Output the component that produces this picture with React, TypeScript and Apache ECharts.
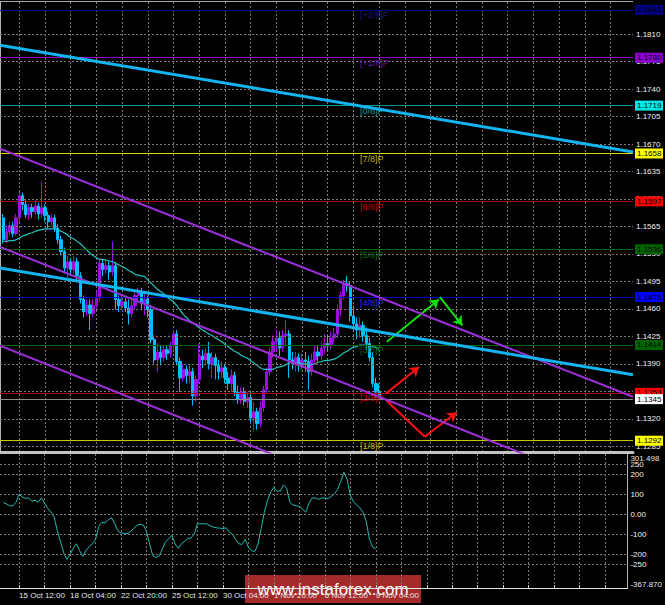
import React, { useEffect, useRef } from "react";
import * as echarts from "echarts";

// ---------------- data ----------------
const MONTHS = ["Jan", "Feb", "Mar", "Apr", "May", "Jun", "Jul", "Aug", "Sep", "Oct", "Nov", "Dec"];
const FIRST_SLOT_UTC = Date.UTC(2018, 9, 12, 12); // empty slot before the first H4 bar
const SLOT_COUNT = 198;

const OPEN = [
  1.1576, 1.1548, 1.1558, 1.1566, 1.1556, 1.1576, 1.1604, 1.1593, 1.158, 1.1589,
  1.1584, 1.1591, 1.1581, 1.1589, 1.1579, 1.1571, 1.1576, 1.1563, 1.1548, 1.1533,
  1.1512, 1.152, 1.151, 1.152, 1.1502, 1.1472, 1.1456, 1.1465, 1.1454, 1.1464,
  1.1474, 1.1518, 1.151, 1.1515, 1.1507, 1.1515, 1.1472, 1.1464, 1.1469, 1.1461,
  1.1454, 1.1464, 1.1477, 1.1482, 1.1467, 1.1472, 1.1459, 1.1421, 1.1395, 1.1405,
  1.1398, 1.1408, 1.1403, 1.1413, 1.1428, 1.1393, 1.1372, 1.1383, 1.1375, 1.138,
  1.1349, 1.137, 1.14, 1.1395, 1.1403, 1.139, 1.1398, 1.1388, 1.138, 1.1385,
  1.1372, 1.1365, 1.1375, 1.1354, 1.1344, 1.1354, 1.1342, 1.1347, 1.1321, 1.1329,
  1.1314, 1.1334, 1.1357, 1.138, 1.1405, 1.1418, 1.1423, 1.141, 1.1426, 1.1428,
  1.1395, 1.139, 1.1398, 1.1388, 1.1395, 1.1393, 1.138, 1.1395, 1.1405, 1.14,
  1.141, 1.1416, 1.1413, 1.1423, 1.1428, 1.1459, 1.1477, 1.1492, 1.149, 1.1451,
  1.1441, 1.1433, 1.1439, 1.1426, 1.1416, 1.1398, 1.1365, 1.1354,
];
const CLOSE = [
  1.1548, 1.1558, 1.1566, 1.1556, 1.1576, 1.1604, 1.1593, 1.158, 1.1589, 1.1584,
  1.1591, 1.1581, 1.1589, 1.1579, 1.1571, 1.1576, 1.1563, 1.1548, 1.1533, 1.1512,
  1.152, 1.151, 1.152, 1.1502, 1.1472, 1.1456, 1.1465, 1.1454, 1.1464, 1.1474,
  1.1518, 1.151, 1.1515, 1.1507, 1.1515, 1.1472, 1.1464, 1.1469, 1.1461, 1.1454,
  1.1464, 1.1477, 1.1482, 1.1467, 1.1472, 1.1459, 1.1421, 1.1395, 1.1405, 1.1398,
  1.1408, 1.1403, 1.1413, 1.1428, 1.1393, 1.1372, 1.1383, 1.1375, 1.138, 1.1349,
  1.137, 1.14, 1.1395, 1.1403, 1.139, 1.1398, 1.1388, 1.138, 1.1385, 1.1372,
  1.1365, 1.1375, 1.1354, 1.1344, 1.1354, 1.1342, 1.1347, 1.1321, 1.1329, 1.1314,
  1.1334, 1.1357, 1.138, 1.1405, 1.1418, 1.1423, 1.141, 1.1426, 1.1428, 1.1395,
  1.139, 1.1398, 1.1388, 1.1395, 1.1393, 1.138, 1.1395, 1.1405, 1.14, 1.141,
  1.1416, 1.1413, 1.1423, 1.1428, 1.1459, 1.1477, 1.1492, 1.149, 1.1451, 1.1441,
  1.1433, 1.1439, 1.1426, 1.1416, 1.1398, 1.1365, 1.1354, 1.1345,
];
const LOW = [
  1.1543, 1.1544, 1.1553, 1.1551, 1.1553, 1.1571, 1.1586, 1.1576, 1.1574, 1.1576,
  1.158, 1.1574, 1.1576, 1.1571, 1.1563, 1.1566, 1.1558, 1.1543, 1.1528, 1.1507,
  1.1495, 1.1502, 1.1505, 1.1497, 1.1467, 1.1449, 1.1451, 1.1433, 1.1449, 1.1459,
  1.1469, 1.1502, 1.1505, 1.1497, 1.1502, 1.1459, 1.1456, 1.1459, 1.1456, 1.144,
  1.1449, 1.1459, 1.1469, 1.1459, 1.1452, 1.1449, 1.1416, 1.139, 1.138, 1.1388,
  1.1393, 1.1395, 1.1398, 1.1408, 1.1388, 1.1354, 1.1367, 1.1365, 1.1365, 1.1337,
  1.1342, 1.1365, 1.1385, 1.1388, 1.1383, 1.1372, 1.137, 1.137, 1.1372, 1.1365,
  1.1357, 1.1354, 1.1349, 1.1339, 1.1339, 1.1337, 1.1334, 1.1316, 1.1304, 1.1306,
  1.1309, 1.1329, 1.1352, 1.1375, 1.1398, 1.1405, 1.14, 1.1405, 1.1413, 1.1372,
  1.1383, 1.138, 1.138, 1.1383, 1.138, 1.1357, 1.1375, 1.139, 1.1393, 1.1395,
  1.1403, 1.1405, 1.1408, 1.1416, 1.1423, 1.1451, 1.1472, 1.1482, 1.1444, 1.1431,
  1.1421, 1.1423, 1.1418, 1.1408, 1.1393, 1.136, 1.1347, 1.1344,
];
const HIGH = [
  1.1581, 1.1566, 1.1571, 1.1571, 1.1581, 1.1609, 1.1608, 1.1599, 1.1594, 1.1594,
  1.1599, 1.1595, 1.1622, 1.1593, 1.1584, 1.1581, 1.158, 1.1568, 1.1553, 1.1538,
  1.1528, 1.1525, 1.1528, 1.1525, 1.1507, 1.1477, 1.1472, 1.1472, 1.1472, 1.1482,
  1.1523, 1.1523, 1.1523, 1.152, 1.1546, 1.152, 1.1477, 1.1477, 1.1474, 1.1472,
  1.1472, 1.1484, 1.1487, 1.1487, 1.1479, 1.1477, 1.1465, 1.1426, 1.1416, 1.1413,
  1.1414, 1.1413, 1.1418, 1.1433, 1.1433, 1.1398, 1.139, 1.1388, 1.1388, 1.1385,
  1.1375, 1.1416, 1.1408, 1.141, 1.1418, 1.1405, 1.1403, 1.1395, 1.1393, 1.139,
  1.138, 1.1383, 1.138, 1.1362, 1.136, 1.136, 1.1354, 1.1354, 1.1342, 1.1334,
  1.1342, 1.1362, 1.1385, 1.141, 1.1426, 1.1433, 1.1431, 1.1433, 1.1446, 1.1433,
  1.1405, 1.1405, 1.1403, 1.1403, 1.1405, 1.14, 1.1403, 1.1413, 1.1413, 1.1418,
  1.1428, 1.1426, 1.1431, 1.1436, 1.1465, 1.1482, 1.1497, 1.1502, 1.1495, 1.1464,
  1.1449, 1.1449, 1.1444, 1.1436, 1.1423, 1.1405, 1.1372, 1.1365,
];
const MOVING_AVERAGE = [
  1.1546, 1.1546, 1.1547, 1.1547, 1.1548, 1.155, 1.1553, 1.1554, 1.1556, 1.1557,
  1.1559, 1.156, 1.1561, 1.1562, 1.1562, 1.1562, 1.1562, 1.156, 1.1559, 1.1557,
  1.1554, 1.1551, 1.1549, 1.1546, 1.1543, 1.1539, 1.1535, 1.1531, 1.1528, 1.1525,
  1.1523, 1.1523, 1.1522, 1.1521, 1.152, 1.1518, 1.1516, 1.1514, 1.1512, 1.1509,
  1.1507, 1.1504, 1.1503, 1.1502, 1.1501, 1.1497, 1.1493, 1.1489, 1.1485, 1.1482,
  1.1479, 1.1475, 1.1472, 1.1469, 1.1464, 1.1459, 1.1453, 1.1449, 1.1445, 1.1442,
  1.1439, 1.1436, 1.1433, 1.1431, 1.1428, 1.1426, 1.1423, 1.1421, 1.1418, 1.1415,
  1.1412, 1.1409, 1.1406, 1.1404, 1.1401, 1.1399, 1.1397, 1.1394, 1.1391, 1.1388,
  1.1385, 1.1383, 1.1383, 1.1383, 1.1383, 1.1385, 1.1386, 1.1387, 1.1389, 1.1391,
  1.1392, 1.1391, 1.1391, 1.139, 1.139, 1.1389, 1.1389, 1.139, 1.1392, 1.1393,
  1.1394, 1.1394, 1.1395, 1.1396, 1.1398, 1.1401, 1.1404, 1.1406, 1.1409, 1.1411,
  1.1412, 1.1414, 1.1414, 1.1414, 1.1414, 1.1412, 1.1411, 1.1408,
];
const CCI = [
  60, 52, 43, 42, 60, 100, 87, 80, 82, 66,
  70, 61, 82, 55, 30, 12, -15, -80, -137, -192,
  -225, -200, -170, -147, -182, -210, -180, -162, -147, -125,
  -60, -40, -42, -27, -17, -45, -82, -93, -95, -96,
  -85, -70, -55, -50, -53, -85, -150, -207, -215, -207,
  -172, -136, -122, -105, -148, -170, -146, -135, -120, -118,
  -97, -47, -47, -47, -48, -57, -64, -67, -69, -71,
  -67, -88, -100, -125, -147, -150, -125, -165, -182, -185,
  -150, -70, 10, 70, 112, 135, 115, 117, 147, 130,
  60, 47, 43, 40, 27, 10, 55, 82, 82, 75,
  82, 82, 78, 90, 102, 125, 165, 210, 175, 95,
  62, 47, 32, 10, -35, -125, -163, -172,
];

const PRICE_TICKS = [
  1.1285, 1.132, 1.1355, 1.139, 1.1425, 1.146, 1.1495, 1.153, 1.1565, 1.16,
  1.1635, 1.167, 1.1705, 1.174, 1.1775, 1.181,
];
const CCI_TICKS = [250, 200, 100, 0, -100, -200, -250];
const CCI_MIN = -367.87;
const CCI_MAX = 301.498;
const PRICE_MIN = 1.1277;
const PRICE_MAX = 1.1851;

const MURREY_LEVELS = [1.1841, 1.178, 1.1719, 1.1658, 1.1597, 1.1536, 1.1475, 1.1414, 1.1353, 1.1292];
const MURREY_NAMES = ["[+2/8]P", "[+1/8]P", "[0/8]P", "[7/8]P", "[6/8]P", "[5/8]P", "[4/8]P", "[3/8]P", "[2/8]P", "[1/8]P"];
const LAST_PRICE = 1.1345;

// trend lines: slot positions and prices at both ends
const TREND_SLOTS = [0, 197];
const TREND_BLUE_UPPER = [1.1796, 1.166];
const TREND_BLUE_LOWER = [1.1512, 1.1376];
const CHANNEL_UPPER = [1.1664, 1.1348];
const CHANNEL_MIDDLE = [1.1539, 1.122];
const CHANNEL_LOWER = [1.1413, 1.1092];

// forecast arrows: [slot, price] start and end
const GREEN_ARROWS = [
  [[120.4, 1.1418], [136.6, 1.1472]],
  [[136.9, 1.1475], [143.9, 1.1439]],
];
const RED_ARROWS = [
  [[120.1, 1.1352], [130.4, 1.1386]],
  [[132.2, 1.1297], [142.1, 1.1328]],
];
const RED_SEGMENTS = [[[120.1, 1.1344], [132.2, 1.1297]]];
const LEVEL_LABEL_SLOT = 112;

// ---------------- styles ----------------
const FONT = '"Liberation Sans", Arial, sans-serif';
const LEVEL_STYLES = [
  { line: "#00007a", box: "#000080", text: "#1a1a80" },
  { line: "#8c00c8", box: "#8c00d0", text: "#6a1aa0" },
  { line: "#009494", box: "#00e8e8", text: "#10a0a0" },
  { line: "#d8d800", box: "#ffff00", text: "#c0b400" },
  { line: "#a80000", box: "#ff0000", text: "#c80000" },
  { line: "#006400", box: "#006400", text: "#0c6a0c" },
  { line: "#0000c8", box: "#0000ff", text: "#2a2aff" },
  { line: "#006400", box: "#006400", text: "#0c6a0c" },
  { line: "#b00000", box: "#ff0000", text: "#c80000" },
  { line: "#c8c800", box: "#ffff00", text: "#c0b400" },
];

function buildSlots(): string[] {
  const out: string[] = [];
  let t = FIRST_SLOT_UTC;
  while (out.length < SLOT_COUNT) {
    const d = new Date(t);
    const wd = d.getUTCDay();
    if (wd !== 0 && wd !== 6) {
      out.push(`${d.getUTCDate()} ${MONTHS[d.getUTCMonth()]} ${String(d.getUTCHours()).padStart(2, "0")}:00`);
    }
    t += 4 * 3600 * 1000;
  }
  return out;
}

export default function App() {
  const ref = useRef<HTMLDivElement>(null);
  useEffect(() => {
    if (!ref.current) return;
    const chart = echarts.init(ref.current, null, { renderer: "svg" });
    const slots = buildSlots();
    const lastBarSlot = OPEN.length; // bar k sits on slot k+1
    const candles: any[] = [["-", "-", "-", "-"]];
    for (let i = 0; i < OPEN.length; i++) candles.push([OPEN[i], CLOSE[i], LOW[i], HIGH[i]]);
    const gridFn = (i: number) => i >= 6 && (i - 6) % 8 === 0;
    const labelFn = (i: number) => i >= 6 && (i - 6) % 16 === 0 && i <= lastBarSlot;
    const splitStyle = { color: "#7a7a7a", type: [2, 2] as any, width: 1 };

    const trend = (vals: number[], color: string, width: number) => ({
      type: "line",
      xAxisIndex: 2,
      yAxisIndex: 0,
      data: TREND_SLOTS.map((s, i) => [s, vals[i]]),
      symbol: "none",
      silent: true,
      z: 7,
      lineStyle: { color, width },
    });

    const option: any = {
      animation: false,
      backgroundColor: "#000000",
      textStyle: { fontFamily: FONT },
      grid: [
        { left: -2, right: 32, top: 2, height: 450.5 },
        { left: -2, right: 32, top: 454, height: 134 },
      ],
      xAxis: [
        {
          type: "category",
          gridIndex: 0,
          data: slots,
          boundaryGap: false,
          axisLine: { show: true, onZero: false, lineStyle: { color: "#c4c4c4", width: 3 } },
          axisTick: { show: false },
          axisLabel: { show: false },
          splitLine: { show: true, interval: gridFn, lineStyle: splitStyle },
        },
        {
          type: "category",
          gridIndex: 1,
          data: slots,
          boundaryGap: false,
          axisLine: { show: true, onZero: false, lineStyle: { color: "#e6e6e6", width: 1 } },
          axisTick: { show: true, inside: true, length: 3, interval: gridFn, lineStyle: { color: "#d0d0d0" } },
          axisLabel: {
            show: true,
            interval: labelFn,
            align: "left",
            color: "#e6e6e6",
            fontSize: 8,
            margin: 3,
            fontFamily: FONT,
          },
          splitLine: { show: true, interval: gridFn, lineStyle: splitStyle },
        },
        { type: "value", gridIndex: 0, min: 0, max: SLOT_COUNT - 1, show: false },
      ],
      yAxis: [
        {
          type: "value",
          gridIndex: 0,
          position: "right",
          min: PRICE_MIN,
          max: PRICE_MAX,
          axisLine: { show: true, lineStyle: { color: "#b4b4b4" } },
          axisTick: { show: false },
          axisLabel: { show: false },
          splitLine: { show: false },
        },
        {
          type: "value",
          gridIndex: 1,
          position: "right",
          min: CCI_MIN,
          max: CCI_MAX,
          interval: 1000,
          axisLine: { show: true, lineStyle: { color: "#b4b4b4" } },
          axisTick: { show: false },
          splitLine: { show: false },
          axisLabel: {
            show: true,
            showMinLabel: true,
            showMaxLabel: true,
            color: "#e6e6e6",
            fontSize: 8,
            margin: 3,
            fontFamily: FONT,
            verticalAlignMaxLabel: "top",
            verticalAlignMinLabel: "bottom",
            formatter: (v: number) =>
              Math.abs(v - CCI_MIN) < 1e-6 || Math.abs(v - CCI_MAX) < 1e-6 ? v.toFixed(3) : "",
          },
        },
      ],
      series: [
        {
          type: "line",
          xAxisIndex: 2,
          yAxisIndex: 0,
          data: [],
          z: 1,
          silent: true,
          markLine: {
            silent: true,
            precision: 4,
            symbol: ["none", "none"],
            lineStyle: splitStyle,
            label: {
              show: true,
              position: "end",
              distance: 3,
              color: "#f0f0f0",
              fontSize: 8,
              fontFamily: FONT,
              formatter: (p: any) => Number(p.value).toFixed(4),
            },
            data: PRICE_TICKS.map((v) => ({ yAxis: v })),
          },
        },
        {
          type: "line",
          xAxisIndex: 1,
          yAxisIndex: 1,
          data: [],
          z: 1,
          silent: true,
          markLine: {
            silent: true,
            precision: 2,
            symbol: ["none", "none"],
            lineStyle: splitStyle,
            label: {
              show: true,
              position: "end",
              distance: 3,
              color: "#f0f0f0",
              fontSize: 8,
              fontFamily: FONT,
              formatter: (p: any) => (Number(p.value) === 0 ? "0.00" : String(Math.round(Number(p.value)))),
            },
            data: CCI_TICKS.map((v) => ({ yAxis: v })),
          },
        },
        {
          type: "candlestick",
          xAxisIndex: 0,
          yAxisIndex: 0,
          data: candles,
          barWidth: 2.8,
          z: 3,
          silent: true,
          itemStyle: {
            color: "#9a10e0",
            color0: "#00bfff",
            borderColor: "#9a10e0",
            borderColor0: "#00bfff",
            borderWidth: 1,
          },
        },
        {
          type: "line",
          xAxisIndex: 0,
          yAxisIndex: 0,
          data: [null, ...MOVING_AVERAGE],
          symbol: "none",
          silent: true,
          z: 4,
          lineStyle: { color: "#22c4c0", width: 1.2 },
        },
        {
          type: "line",
          xAxisIndex: 2,
          yAxisIndex: 0,
          data: [],
          z: 5,
          silent: true,
          markLine: {
            silent: true,
            precision: 4,
            symbol: ["none", "none"],
            data: [
              ...MURREY_LEVELS.map((p, i) => ({
                yAxis: p,
                lineStyle: { color: LEVEL_STYLES[i].line, width: 1, type: "solid" },
                label: {
                  show: true,
                  position: "end",
                  distance: 2,
                  formatter: p.toFixed(4),
                  color: "#000000",
                  backgroundColor: LEVEL_STYLES[i].box,
                  padding: [1, 2, 0, 2],
                  width: 24,
                  fontSize: 8,
                  lineHeight: 9,
                  fontFamily: FONT,
                },
              })),
              {
                yAxis: LAST_PRICE,
                lineStyle: { color: "#8c8c8c", width: 1, type: "solid" },
                label: {
                  show: true,
                  position: "end",
                  distance: 2,
                  formatter: LAST_PRICE.toFixed(4),
                  color: "#000000",
                  backgroundColor: "#ffffff",
                  padding: [1, 2, 0, 2],
                  width: 24,
                  fontSize: 8,
                  lineHeight: 9,
                  fontFamily: FONT,
                },
              },
            ],
          },
          markPoint: {
            silent: true,
            symbol: "circle",
            symbolSize: 0,
            data: MURREY_LEVELS.map((p, i) => ({
              coord: [LEVEL_LABEL_SLOT, p],
              label: {
                show: true,
                formatter: MURREY_NAMES[i],
                position: [0, 1],
                align: "left",
                verticalAlign: "top",
                color: LEVEL_STYLES[i].text,
                fontSize: 9,
                fontFamily: FONT,
              },
            })),
          },
        },
        trend(CHANNEL_UPPER, "#9b30d9", 2),
        trend(CHANNEL_MIDDLE, "#9b30d9", 2),
        trend(CHANNEL_LOWER, "#9b30d9", 2),
        trend(TREND_BLUE_UPPER, "#14b4f0", 3),
        trend(TREND_BLUE_LOWER, "#14b4f0", 3),
        {
          type: "line",
          xAxisIndex: 2,
          yAxisIndex: 0,
          data: [],
          z: 8,
          silent: true,
          markLine: {
            silent: true,
            precision: 4,
            symbol: ["none", "arrow"],
            symbolSize: 9,
            label: { show: false },
            data: [
              ...GREEN_ARROWS.map((a) => [
                { coord: a[0], lineStyle: { color: "#10e010", width: 2, type: "solid" }, itemStyle: { color: "#10e010" } },
                { coord: a[1] },
              ]),
              ...RED_ARROWS.map((a) => [
                { coord: a[0], lineStyle: { color: "#ff1010", width: 2, type: "solid" }, itemStyle: { color: "#ff1010" } },
                { coord: a[1] },
              ]),
            ],
          },
        },
        {
          type: "line",
          xAxisIndex: 2,
          yAxisIndex: 0,
          data: [],
          z: 8,
          silent: true,
          markLine: {
            silent: true,
            precision: 4,
            symbol: ["none", "none"],
            label: { show: false },
            data: RED_SEGMENTS.map((a) => [
              { coord: a[0], lineStyle: { color: "#ff1010", width: 2, type: "solid" } },
              { coord: a[1] },
            ]),
          },
        },
        {
          type: "line",
          xAxisIndex: 1,
          yAxisIndex: 1,
          data: [null, ...CCI],
          symbol: "none",
          silent: true,
          z: 4,
          lineStyle: { color: "#20b8b0", width: 1 },
        },
      ],
      graphic: [
        {
          type: "line",
          z: 50,
          silent: true,
          shape: { x1: 0, y1: 1.5, x2: 633, y2: 1.5 },
          style: { stroke: "#a8a8a8", lineWidth: 1 },
        },
        {
          type: "group",
          left: 245,
          top: 575,
          z: 100,
          silent: true,
          children: [
            {
              type: "rect",
              shape: { x: 0, y: 0, width: 176, height: 28 },
              style: { fill: "rgba(188, 48, 48, 0.88)" },
            },
            {
              type: "text",
              x: 88,
              y: 14,
              style: {
                text: "www.instaforex.com",
                fill: "#ffffff",
                font: '17px "Liberation Sans", Arial, sans-serif',
                align: "center",
                verticalAlign: "middle",
                textAlign: "center",
                textVerticalAlign: "middle",
              },
            },
          ],
        },
      ],
    };
    chart.setOption(option);
    return () => chart.dispose();
  }, []);
  return (
    <div
      ref={ref}
      style={{ position: "fixed", left: 0, top: 0, width: 665, height: 605, background: "#000" }}
    />
  );
}
